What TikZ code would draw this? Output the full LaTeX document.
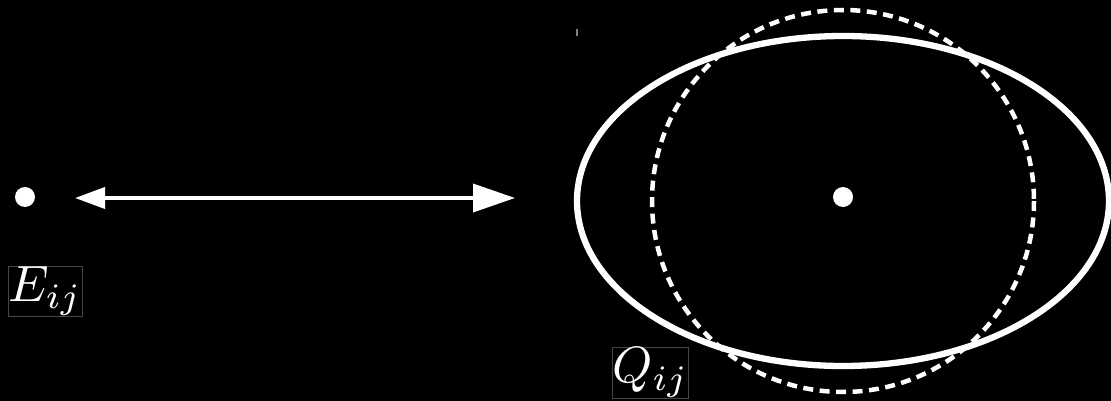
\documentclass[tikz,border=0pt]{standalone}
\usepackage{graphicx}
\usetikzlibrary{arrows.meta}
\definecolor{framegray}{RGB}{70,70,70}
\begin{document}
\begin{tikzpicture}[x=1pt,y=-1pt,
  dot/.style={circle,fill=white,inner sep=0pt,minimum size=20pt},
  lbl/.style={draw=framegray,line width=0.8pt,text=white,inner sep=0pt},
  link/.style={white,line width=3.7pt,{Triangle[length=30pt,width=21pt]}-{Triangle[length=42pt,width=28pt]}}]
\fill[black] (0,0) rectangle (1111,401);
\useasboundingbox (0,0) rectangle (1111,401);
\node[dot] (p) at (25,197) {};
\node[dot] (c) at (843,197) {};
\coordinate (a1) at (75,198);
\coordinate (a2) at (515,198);
\draw[link] (a1) -- (a2);
\node[lbl,minimum width=74pt,minimum height=50pt] (e) at (45,291) {\scalebox{5.1}{$E_{ij}$}};
\node[lbl,minimum width=75pt,minimum height=51pt] (q) at (650.5,372.5) {\scalebox{5.1}{$Q_{ij}$}};
\draw[white,line width=6.3pt] (c) ++(0,4) ellipse [x radius=266, y radius=165];
\draw[white,line width=4.5pt,dash pattern=on 10pt off 6.5pt] (c) ++(0,4) circle [radius=191];
\draw[gray,line width=2pt] (576.7,29) -- (576.7,36);
\end{tikzpicture}
\end{document}
